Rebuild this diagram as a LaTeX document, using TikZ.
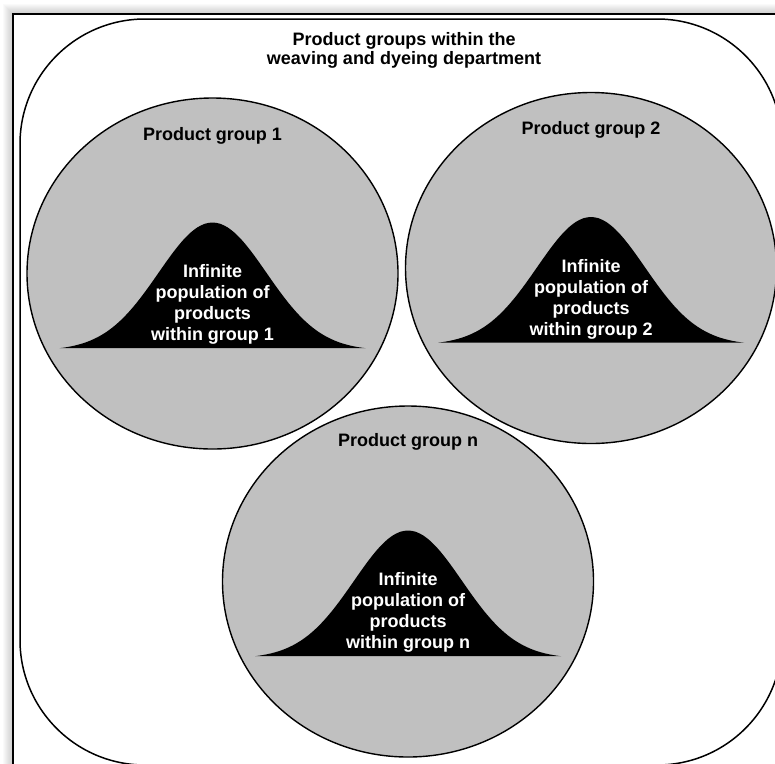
\documentclass[tikz,border=0pt]{standalone}
\usepackage{fontspec}
\setmainfont{Liberation Sans}
\usetikzlibrary{positioning,shapes.geometric}
\definecolor{groupgray}{HTML}{C0C0C0}
% normal curve standing on a base line 77pt below a group's centre
\newcommand{\bellcurve}[1]{%
  \fill[black, shift={(#1)}, yshift=-77pt]
    plot[smooth, domain=-153:153, samples=41] (\x, {-128*exp(-0.5*(\x/54)*(\x/54))}) -- cycle;}

\begin{document}
\begin{tikzpicture}[
    x=1pt, y=-1pt,
    every node/.style={align=center, font=\fontsize{18}{21}\selectfont\bfseries},
    frame/.style={draw, line width=2pt, fill=white},
    dept/.style={draw, line width=1.5pt, rounded corners=125pt},
    group/.style={draw, ellipse, fill=groupgray, line width=1.4pt, minimum width=371pt, minimum height=351pt, inner sep=0pt},
    grouptitle/.style={text=black},
    poptext/.style={text=white}
]
\useasboundingbox (0,0) rectangle (775,763);
\clip (0,0) rectangle (775,763);

% Page frame with a soft shadow
\foreach \s in {1,...,10}
  \fill[black, opacity=0.02] ({13-\s},{14-\s}) rectangle (800,800);
\draw[frame] (13,14) rectangle (800,800);

% Department outline
\draw[dept] (20,19) rectangle (782,765);
\node[font=\fontsize{18}{19}\selectfont\bfseries] (dept) at (404,50) {Product groups within the\\weaving and dyeing department};

% Product groups
\node[group] (g1) at (212.5,273.5) {};
\node[group] (g2) at (591,268) {};
\node[group] (gn) at (408,581.5) {};

\node[grouptitle] (t1) at ([yshift=138pt]g1.center) {Product group 1};
\node[grouptitle] (t2) at ([yshift=138pt]g2.center) {Product group 2};
\node[grouptitle] (tn) at ([yshift=140pt]gn.center) {Product group n};

% Populations within each group
\bellcurve{g1.center}
\bellcurve{g2.center}
\bellcurve{gn.center}

\node[poptext] (p1) at ([yshift=-31pt]g1.center) {Infinite\\population of\\products\\within group 1};
\node[poptext] (p2) at ([yshift=-31pt]g2.center) {Infinite\\population of\\products\\within group 2};
\node[poptext] (pn) at ([yshift=-31pt]gn.center) {Infinite\\population of\\products\\within group n};

\end{tikzpicture}
\end{document}
